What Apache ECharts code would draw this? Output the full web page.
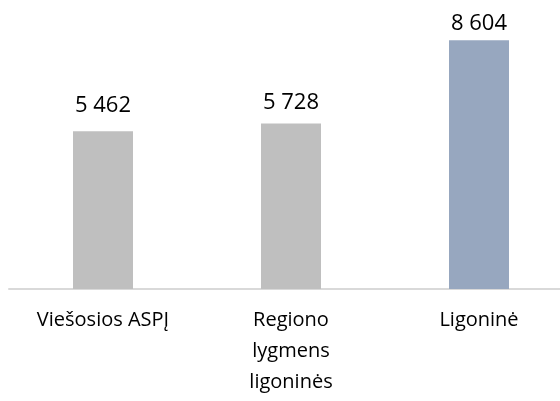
<!DOCTYPE html>
<html>
<head>
<meta charset="utf-8">
<script src="https://cdn.jsdelivr.net/npm/echarts@6/dist/echarts.min.js"></script>
<style>
  html, body { margin: 0; padding: 0; background: #fff; }
  #chart { width: 560px; height: 401px; }
</style>
</head>
<body>
<div id="chart"></div>
<script>
// kategorijos ir reikšmės
const categories = ['Viešosios ASPĮ', 'Regiono\nlygmens\nligoninės', 'Ligoninė'];
const values = [5462, 5728, 8604];

// spalvos ir etikečių atstumai
const barColors = ['#bfbfbf', '#bfbfbf', '#97a7bf'];
const labelGaps = [14, 10, 6];

const chart = echarts.init(document.getElementById('chart'));

// tūkstančių skyriklis - tarpas
const fmt = v => String(v).replace(/\B(?=(\d{3})+(?!\d))/g, ' ');

chart.setOption({
    animation: false,
    grid: {
        left: 9,
        width: 564,
        top: 0,
        bottom: 112,
        outerBoundsMode: 'none',
        containLabel: false
    },
    xAxis: {
        type: 'category',
        data: categories,
        axisTick: { show: false },
        axisLine: {
            lineStyle: { color: '#d9d9d9', width: 2 }
        },
        axisLabel: {
            margin: 16,
            fontFamily: 'Open Sans',
            fontSize: 20,
            lineHeight: 31,
            color: '#000',
            interval: 0
        }
    },
    yAxis: {
        type: 'value',
        min: 0,
        max: 10000,
        show: false,
        splitLine: { show: false }
    },
    series: [{
        type: 'bar',
        barWidth: 60,
        data: values.map((v, i) => ({
            value: v,
            itemStyle: { color: barColors[i] },
            label: { distance: labelGaps[i] }
        })),
        label: {
            show: true,
            position: 'top',
            fontFamily: 'Open Sans',
            fontSize: 22,
            color: '#000',
            formatter: p => fmt(p.value)
        }
    }]
});
</script>
</body>
</html>
